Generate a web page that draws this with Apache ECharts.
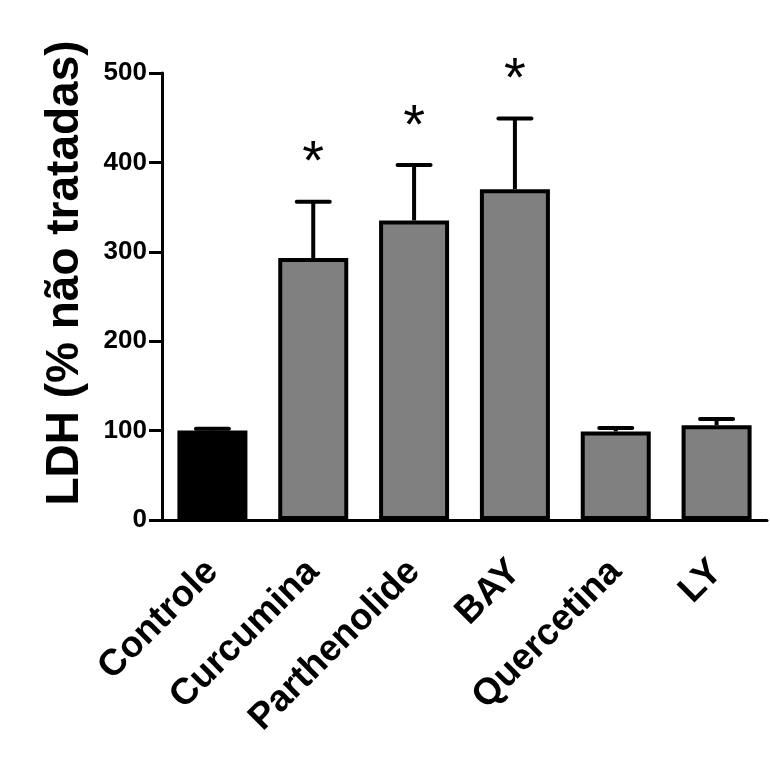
<!DOCTYPE html>
<html><head><meta charset="utf-8">
<script src="https://cdn.jsdelivr.net/npm/echarts@6/dist/echarts.min.js"></script>
<style>html,body{margin:0;padding:0;background:#fff}#c{width:770px;height:784px}</style>
</head><body><div id="c"></div>
<script>
// ---- data ----
const categories = ['Controle', 'Curcumina', 'Parthenolide', 'BAY', 'Quercetina', 'LY'];
const means = [100, 293, 335, 370, 99, 106];
const errors = [2, 63, 62, 79, 4, 7];
const significance = ['', '*', '*', '*', '', ''];
const barColors = ['#000000', '#808080', '#808080', '#808080', '#808080', '#808080'];
const yAxisTitle = 'LDH (% não tratadas)';
const yMin = 0, yMax = 500, yStep = 100;

const FONT = '"Liberation Sans", Arial, Helvetica, sans-serif';
const chart = echarts.init(document.getElementById('c'), null, {renderer: 'canvas'});

chart.setOption({
  backgroundColor: '#ffffff',
  animation: false,
  grid: {left: 162, right: 3, top: 73, bottom: 264, containLabel: false},
  graphic: [{
    type: 'text', x: 65, y: 273, rotation: Math.PI / 2,
    style: {text: yAxisTitle, font: 'bold 46px ' + FONT, fill: '#000', align: 'center', verticalAlign: 'middle'}
  }],
  xAxis: {
    type: 'category',
    data: categories,
    axisLine: {lineStyle: {color: '#000', width: 3}},
    axisTick: {alignWithLabel: true, length: 10, lineStyle: {color: '#000', width: 3}},
    axisLabel: {rotate: 45, margin: 46, color: '#000', fontFamily: FONT, fontWeight: 'bold', fontSize: 37, interval: 0}
  },
  yAxis: {
    type: 'value', min: yMin, max: yMax, interval: yStep,
    axisLine: {show: true, lineStyle: {color: '#000', width: 3}},
    axisTick: {show: true, length: 13, lineStyle: {color: '#000', width: 3}},
    axisLabel: {margin: 15, color: '#000', fontFamily: FONT, fontWeight: 'bold', fontSize: 26},
    splitLine: {show: false}
  },
  series: [{
    type: 'bar',
    barWidth: 70,
    data: means.map((v, i) => ({value: v, itemStyle: {color: barColors[i]}})),
    itemStyle: {borderColor: '#000', borderWidth: 4},
    z: 2
  }, {
    type: 'custom',
    z: 3,
    data: categories.map((c, i) => [i, means[i], errors[i]]),
    renderItem: function (params, api) {
      const i = api.value(0), m = api.value(1), e = api.value(2);
      const base = api.coord([i, m]);
      const top = api.coord([i, m + e]);
      const half = 16.5;
      const children = [
        {type: 'line', shape: {x1: base[0], y1: base[1], x2: top[0], y2: top[1]}, style: {stroke: '#000', lineWidth: 4}},
        {type: 'line', shape: {x1: top[0] - half, y1: top[1], x2: top[0] + half, y2: top[1]}, style: {stroke: '#000', lineWidth: 4, lineCap: 'round'}}
      ];
      const s = significance[params.dataIndex];
      if (s) {
        children.push({type: 'text', x: top[0], y: top[1] - 38,
          style: {text: s, font: 'normal 56px ' + FONT, fill: '#000', align: 'center', verticalAlign: 'middle'}});
      }
      return {type: 'group', children: children};
    }
  }]
});
</script>
</body></html>
